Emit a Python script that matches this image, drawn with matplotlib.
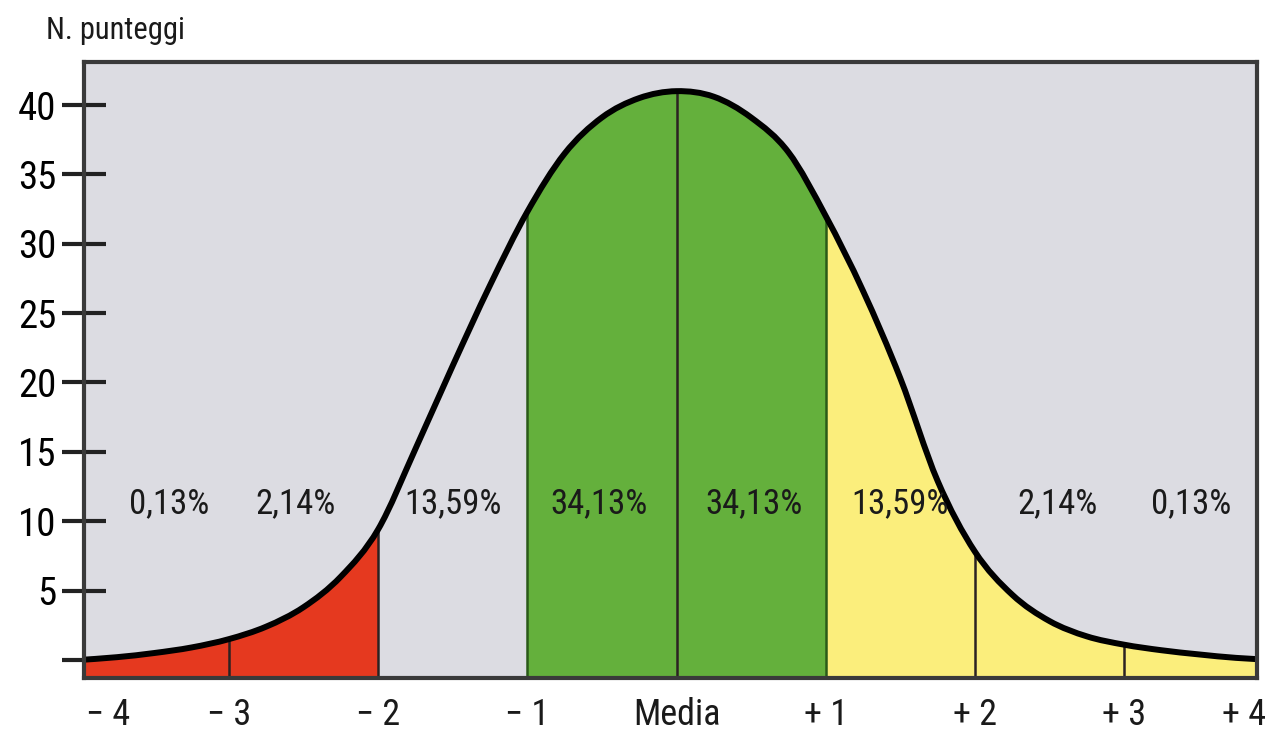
import numpy as np
import matplotlib
matplotlib.use("Agg")
import matplotlib.pyplot as plt
from matplotlib.path import Path
from matplotlib.patches import PathPatch, Rectangle

plt.rcParams['font.family'] = ['Liberation Sans Narrow', 'DejaVu Sans Condensed',
                               'Roboto Condensed', 'Roboto', 'DejaVu Sans']
plt.rcParams['font.stretch'] = 'condensed'

# curve (quarter steps, in deviation units)
x_pts = [-4, -3.75, -3.5, -3.25, -3, -2.75, -2.5, -2.25, -2, -1.75, -1.5, -1.25,
         -1, -0.75, -0.5, -0.25, 0, 0.25, 0.5, 0.75, 1, 1.25, 1.5, 1.75,
         2, 2.25, 2.5, 2.75, 3, 3.25, 3.5, 3.75, 4]
y_pts = [0.0, 0.2, 0.5, 0.9, 1.5, 2.4, 3.8, 6.0, 9.4, 15.2, 21.2, 27.0,
         32.3, 36.5, 39.1, 40.5, 41.0, 40.6, 39.1, 36.6, 32.0, 26.6, 20.3, 12.9,
         7.8, 4.7, 2.8, 1.7, 1.1, 0.7, 0.4, 0.15, 0.0]

tick_pos = [-4, -3, -2, -1, 0, 1, 2, 3, 4]
tick_lab = ['\u2212 4', '\u2212 3', '\u2212 2', '\u2212 1', 'Media', '+ 1', '+ 2', '+ 3', '+ 4']
pct_x = [-3.4, -2.55, -1.5, -0.52, 0.52, 1.5, 2.55, 3.45]
pct_lab = ['0,13%', '2,14%', '13,59%', '34,13%', '34,13%', '13,59%', '2,14%', '0,13%']
y_ticks = [0, 5, 10, 15, 20, 25, 30, 35, 40]

x = np.array(x_pts, dtype=float)
y = np.array(y_pts, dtype=float)
ybot = -1.3
ytop = 43.1
xlo, xhi = -3.97, 3.89


def smooth_path(xs, ys):
    # bezier segments through the read points (catmull-rom tangents)
    P = np.column_stack([xs, ys])
    Pe = np.vstack([P[0], P, P[-1]])
    verts = [P[0]]
    codes = [Path.MOVETO]
    for i in range(len(P) - 1):
        p0, p1, p2, p3 = Pe[i], Pe[i + 1], Pe[i + 2], Pe[i + 3]
        verts += [p1 + (p2 - p0) / 6, p2 - (p3 - p1) / 6, p2]
        codes += [Path.CURVE4] * 3
    return verts, codes


fig = plt.figure(figsize=(12.66, 7.34), dpi=100)
ax = fig.add_axes([0.0664, 0.0763, 0.9265, 0.8392])
ax.set_facecolor('#dcdce2')
ax.set_xlim(xlo, xhi)
ax.set_ylim(ybot, ytop)

verts, codes = smooth_path(x, y)
area_v = verts + [(x[-1], ybot), (x[0], ybot), verts[0]]
area_c = codes + [Path.LINETO, Path.LINETO, Path.CLOSEPOLY]
area = Path(area_v, area_c)

red = '#e5391f'
green = '#64b03c'
yellow = '#fbee7c'
for x0, x1, col in [(xlo, -2, red), (-1, 1, green), (1, xhi, yellow)]:
    patch = PathPatch(area, facecolor=col, lw=0, zorder=2)
    ax.add_patch(patch)
    clip = Rectangle((x0, ybot), x1 - x0, ytop - ybot, transform=ax.transData)
    patch.set_clip_path(clip)

for p in [-3, -2, -1, 0, 1, 2, 3]:
    top = y[x_pts.index(p)]
    col = '#2a5a18' if abs(p) == 1 else '#2b2222'
    ax.plot([p, p], [ybot, top], color=col, lw=1.8, zorder=3)

ax.add_patch(PathPatch(Path(verts, codes), facecolor='none', edgecolor='black',
                       lw=4.3, zorder=4))

for s in ax.spines.values():
    s.set_color('#3a3a3a')
    s.set_linewidth(3)
    s.set_zorder(5)

ax.set_yticks(y_ticks)
ax.set_yticklabels([''] + [str(v) for v in y_ticks[1:]])
ax.tick_params(axis='y', direction='inout', length=32, width=3, color='#222222',
               labelsize=28, pad=4)
ax.set_xticks([])

for p, lab in zip(tick_pos, tick_lab):
    ha = 'center'
    xx = p
    if p == -4:
        ha = 'left'
        xx = -3.96
    elif p == 4:
        ha = 'right'
        xx = 3.95
    ax.text(xx, -4.0, lab, ha=ha, va='center', fontsize=26, color='#1a1a1a', clip_on=False)

for px, lab in zip(pct_x, pct_lab):
    ax.text(px, 11.3, lab, ha='center', va='center', fontsize=25, color='#1a1a1a', zorder=6)

fig.text(0.036, 0.958, 'N. punteggi', ha='left', va='center', fontsize=22, color='#1a1a1a')

fig.savefig('out.png', dpi=100)
